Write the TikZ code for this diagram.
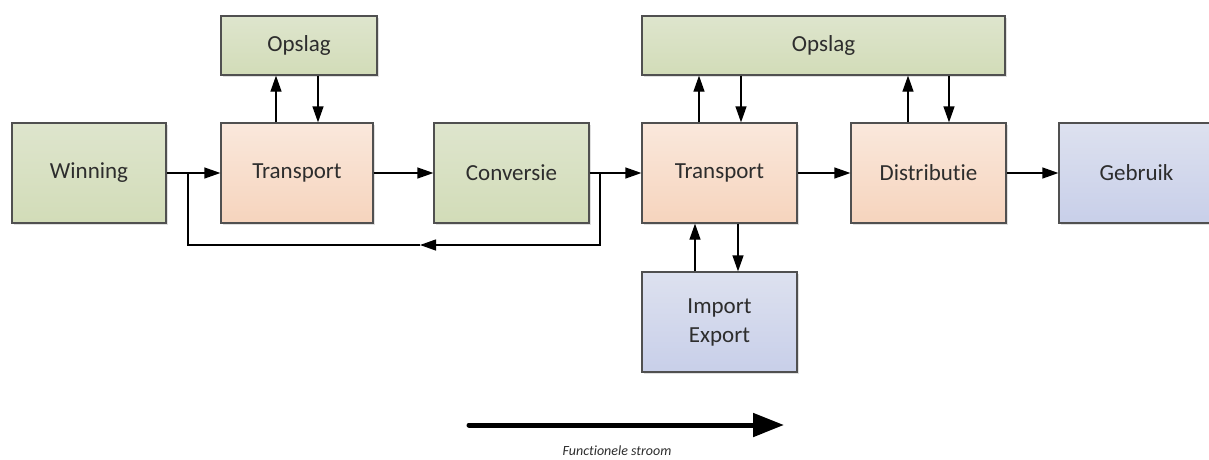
\documentclass[tikz,border=0pt]{standalone}
\usepackage{fontspec}
\setmainfont{Carlito}[Ligatures=CommonOff]
\usetikzlibrary{arrows.meta,shadows}
\definecolor{grnT}{RGB}{222,229,205}
\definecolor{grnB}{RGB}{210,220,184}
\definecolor{orgT}{RGB}{250,232,220}
\definecolor{orgB}{RGB}{246,212,189}
\definecolor{bluT}{RGB}{221,225,239}
\definecolor{bluB}{RGB}{200,207,233}
\definecolor{edge}{RGB}{80,80,80}
\definecolor{txt}{RGB}{45,45,45}
\tikzset{
  blk/.style={draw=edge, line width=1.3pt, minimum height=100pt, minimum width=155pt,
    inner sep=0pt, align=center, text=txt, font=\fontsize{23}{29}\selectfont,
    drop shadow={shadow xshift=2pt, shadow yshift=-2pt, fill=black, opacity=0.12}},
  green/.style={blk, top color=grnT, bottom color=grnB},
  orange/.style={blk, top color=orgT, bottom color=orgB},
  blue/.style={blk, top color=bluT, bottom color=bluB},
  flow/.style={line width=1.3pt, draw=black, -{Triangle[length=16pt,width=11pt]}},
  wire/.style={line width=1.3pt, draw=black},
  bigflow/.style={line width=5pt, line cap=round, -{Triangle[length=31pt,width=23pt]}}
}
\begin{document}
\begin{tikzpicture}[x=1pt, y=-1pt]
\useasboundingbox (0,0) rectangle (1209,459);

% main chain
\node[green]  (win)  at (89,173)    [minimum width=154pt] {Winning};
\node[orange] (tr1)  at (297,173)   [minimum width=152pt] {Transport};
\node[green]  (conv) at (511.5,173) {Conversie};
\node[orange] (tr2)  at (719.5,173) {Transport};
\node[orange] (dist) at (928.5,173) {Distributie};
\node[blue]   (use)  at (1136.5,173) {Gebruik};

% storage and trade
\node[green] (st1) at (299,45.5)   [minimum width=156pt, minimum height=59pt] {Opslag};
\node[green] (st2) at (823.5,45.5) [minimum width=363pt, minimum height=59pt] {Opslag};
\node[blue]  (imex) at (719.5,322) {Import\\Export};

% horizontal flows
\draw[flow] (win.east)  -- (tr1.west);
\draw[flow] (tr1.east)  -- (conv.west);
\draw[flow] (conv.east) -- (tr2.west);
\draw[flow] (tr2.east)  -- (dist.west);
\draw[flow] (dist.east) -- (use.west);

% return line from conversion back to the first transport
\coordinate (b1) at (188,173);
\coordinate (b2) at (600,173);
\coordinate (ret) at (420,245);
\draw[flow] (b2) |- (ret);
\draw[wire] (ret) -- (b1 |- ret) -- (b1);

% storage exchanges
\draw[flow] (tr1.north -| 276,0) -- (st1.south -| 276,0);
\draw[flow] (st1.south -| 318,0) -- (tr1.north -| 318,0);
\draw[flow] (tr2.north -| 699,0) -- (st2.south -| 699,0);
\draw[flow] (st2.south -| 741,0) -- (tr2.north -| 741,0);
\draw[flow] (dist.north -| 908,0) -- (st2.south -| 908,0);
\draw[flow] (st2.south -| 949,0) -- (dist.north -| 949,0);

% import / export exchanges
\draw[flow] (imex.north -| 695,0) -- (tr2.south -| 695,0);
\draw[flow] (tr2.south -| 738,0) -- (imex.north -| 738,0);

% direction of the functional flow
\coordinate (fa) at (469,425);
\coordinate (fb) at (784,425);
\draw[bigflow] (fa) -- (fb);
\node[text=txt, font=\fontsize{14}{16}\selectfont\itshape] (cap) at (617,451) {Functionele stroom};
\end{tikzpicture}
\end{document}
